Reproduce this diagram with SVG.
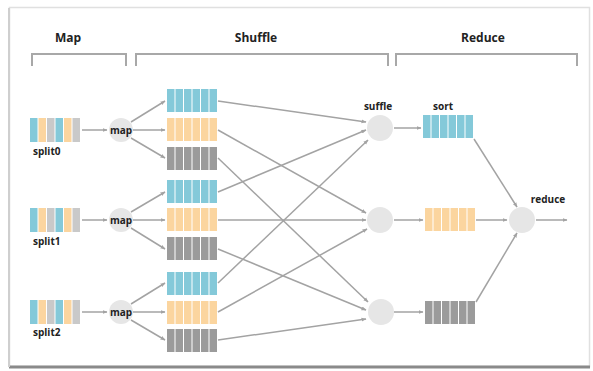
<svg xmlns="http://www.w3.org/2000/svg" xmlns:xlink="http://www.w3.org/1999/xlink" width="593" height="371" viewBox="0 0 593 371">
<style>
.t{font-family:"Open Sans","Liberation Sans",sans-serif;font-weight:700;fill:#222}
.h{font-size:12px}
.s{font-size:10px}
.br{fill:none;stroke:#a8a8a8;stroke-width:2}
.c{fill:#e6e6e6}
.ln{stroke:#a3a3a3;stroke-width:1.5;fill:none;marker-end:url(#ah)}
.b{fill:#84c9d9}.o{fill:#fbd59f}.g{fill:#9b9b9b}.lg{fill:#c9c9c9}
</style>
<defs>
<marker id="ah" viewBox="0 0 10 10" refX="9" refY="5" markerWidth="5" markerHeight="5" orient="auto" markerUnits="userSpaceOnUse">
<path d="M0,1 L10,5 L0,9 z" fill="#a3a3a3"/>
</marker>
<g id="stripes">
<rect x="0" width="7.5" height="23"/><rect x="8.5" width="7.5" height="23"/><rect x="17" width="7.5" height="23"/><rect x="25.5" width="7.5" height="23"/><rect x="34" width="7.5" height="23"/><rect x="42.5" width="7.5" height="23"/>
</g>
<g id="split">
<rect class="b" x="0" width="7.5" height="24"/><rect class="o" x="8.5" width="7.5" height="24"/><rect class="lg" x="17" width="7.5" height="24"/><rect class="b" x="25.5" width="7.5" height="24"/><rect class="o" x="34" width="7.5" height="24"/><rect class="lg" x="42.5" width="7.5" height="24"/>
</g>
</defs>
<rect x="0" y="0" width="593" height="371" fill="#fff"/>
<rect x="9.5" y="7.5" width="580" height="359" fill="#fff" stroke="#e0e0e0" stroke-width="1.5"/>
<line x1="9" y1="367" x2="590" y2="367" stroke="#8a8a8a" stroke-width="3"/>
<line x1="9" y1="8" x2="9" y2="367" stroke="#cfcfcf" stroke-width="2"/>

<g id="headings">
<text class="t h" x="68" y="42" text-anchor="middle">Map</text>
<text class="t h" x="256" y="42" text-anchor="middle">Shuffle</text>
<text class="t h" x="483" y="42" text-anchor="middle">Reduce</text>
<path class="br" d="M32,66 V54 H126 V66"/>
<path class="br" d="M136,66 V54 H388 V66"/>
<path class="br" d="M396,66 V54 H577 V66"/>
</g>

<g id="connectors">
<line class="ln" x1="82" y1="130" x2="107" y2="130"/>
<line class="ln" x1="82" y1="220" x2="107" y2="220"/>
<line class="ln" x1="82" y1="312" x2="107" y2="312"/>
<line class="ln" x1="131" y1="122" x2="165" y2="101"/>
<line class="ln" x1="133" y1="130" x2="165" y2="130"/>
<line class="ln" x1="131" y1="138" x2="165" y2="158"/>
<line class="ln" x1="131" y1="212" x2="165" y2="192"/>
<line class="ln" x1="133" y1="220" x2="165" y2="220"/>
<line class="ln" x1="131" y1="228" x2="165" y2="249"/>
<line class="ln" x1="131" y1="304" x2="165" y2="283"/>
<line class="ln" x1="133" y1="312" x2="165" y2="312"/>
<line class="ln" x1="131" y1="320" x2="165" y2="340"/>
<line class="ln" x1="218" y1="101" x2="366" y2="122"/>
<line class="ln" x1="218" y1="192" x2="366" y2="130"/>
<line class="ln" x1="218" y1="283" x2="368" y2="140"/>
<line class="ln" x1="218" y1="130" x2="366" y2="213"/>
<line class="ln" x1="218" y1="220" x2="366" y2="220"/>
<line class="ln" x1="218" y1="312" x2="367" y2="229"/>
<line class="ln" x1="218" y1="158" x2="368" y2="302"/>
<line class="ln" x1="218" y1="249" x2="366" y2="310"/>
<line class="ln" x1="218" y1="340" x2="366" y2="319"/>
<line class="ln" x1="394" y1="128" x2="421" y2="128"/>
<line class="ln" x1="394" y1="220" x2="423" y2="220"/>
<line class="ln" x1="394" y1="312" x2="423" y2="312"/>
<line class="ln" x1="474" y1="139" x2="517" y2="207"/>
<line class="ln" x1="476" y1="220" x2="507" y2="220"/>
<line class="ln" x1="476" y1="302" x2="517" y2="233"/>
<line class="ln" x1="536" y1="220" x2="567" y2="220"/>
</g>

<g id="split0"><use xlink:href="#split" x="30" y="118"/><text class="t s" x="33" y="155">split0</text></g>
<g id="split1"><use xlink:href="#split" x="30" y="208"/><text class="t s" x="33" y="245">split1</text></g>
<g id="split2"><use xlink:href="#split" x="30" y="300"/><text class="t s" x="33" y="336">split2</text></g>

<g id="map0"><circle class="c" cx="121" cy="130" r="12"/><text class="t s" x="121" y="133.5" text-anchor="middle">map</text></g>
<g id="map1"><circle class="c" cx="121" cy="220" r="12"/><text class="t s" x="121" y="223.5" text-anchor="middle">map</text></g>
<g id="map2"><circle class="c" cx="121" cy="312" r="12"/><text class="t s" x="121" y="315.5" text-anchor="middle">map</text></g>

<g id="part0">
<use xlink:href="#stripes" class="b" x="167" y="89"/>
<use xlink:href="#stripes" class="o" x="167" y="118"/>
<use xlink:href="#stripes" class="g" x="167" y="147"/>
</g>
<g id="part1">
<use xlink:href="#stripes" class="b" x="167" y="180"/>
<use xlink:href="#stripes" class="o" x="167" y="208"/>
<use xlink:href="#stripes" class="g" x="167" y="237"/>
</g>
<g id="part2">
<use xlink:href="#stripes" class="b" x="167" y="272"/>
<use xlink:href="#stripes" class="o" x="167" y="301"/>
<use xlink:href="#stripes" class="g" x="167" y="329"/>
</g>

<g id="shuffle0"><circle class="c" cx="380" cy="128" r="13"/><text class="t s" x="378" y="110" text-anchor="middle">suffle</text></g>
<g id="shuffle1"><circle class="c" cx="380" cy="220" r="13"/></g>
<g id="shuffle2"><circle class="c" cx="381" cy="312" r="13"/></g>

<g id="sort0"><use xlink:href="#stripes" class="b" x="423" y="115"/><text class="t s" x="443" y="110" text-anchor="middle">sort</text></g>
<g id="sort1"><use xlink:href="#stripes" class="o" x="425" y="208"/></g>
<g id="sort2"><use xlink:href="#stripes" class="g" x="425" y="301"/></g>

<g id="reduce"><circle class="c" cx="522" cy="220" r="13"/><text class="t s" x="548" y="203" text-anchor="middle">reduce</text></g>
</svg>
